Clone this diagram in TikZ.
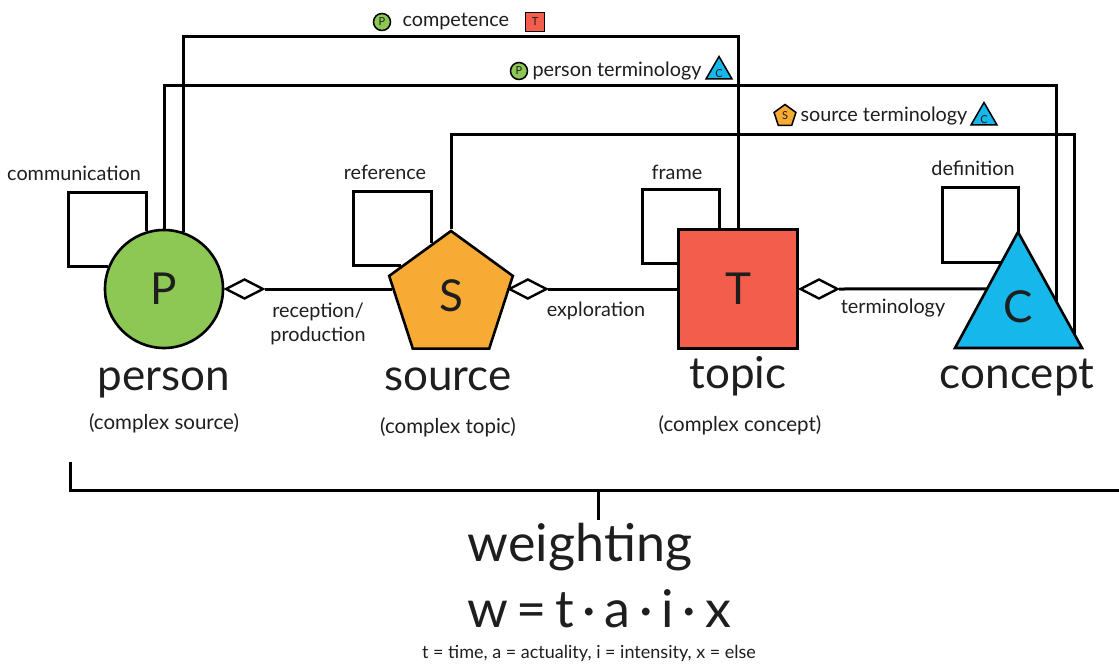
\documentclass[tikz,border=0pt]{standalone}
\usepackage{fontspec}
\setmainfont{Lato}
\usetikzlibrary{shapes.geometric,backgrounds,calc}
\definecolor{pgreen}{RGB}{141,199,84}
\definecolor{sorange}{RGB}{247,170,52}
\definecolor{tred}{RGB}{243,94,76}
\definecolor{ccyan}{RGB}{22,183,234}
\definecolor{ink}{RGB}{30,30,30}
\begin{document}
\begin{tikzpicture}[x=1pt,y=-1pt,line width=3pt,
  shapebox/.style={draw=black,line width=2.6pt,inner sep=0pt,font=\fontsize{44}{44}\selectfont,text=ink},
  dia/.style={draw=black,fill=white,line width=2.4pt,diamond,aspect=2,minimum width=38pt,minimum height=20pt,inner sep=0pt},
  lbl/.style={font=\fontsize{19.8}{24}\selectfont,text=ink,inner sep=0pt},
  bigname/.style={font=\fontsize{44}{48}\selectfont,text=ink,inner sep=0pt,anchor=base},
  sub/.style={font=\fontsize{20.5}{24}\selectfont,text=ink,inner sep=0pt},
  icon/.style={draw=black,line width=1.5pt,inner sep=0pt,font=\fontsize{11}{11}\selectfont,text=ink},
  conn/.style={draw=black,line width=3pt}]
\useasboundingbox (0,0) rectangle (1119,666);

% main shapes
\node[shapebox,circle,fill=pgreen,minimum size=118pt] (P) at (164,289) {P};
\node[shapebox,regular polygon,regular polygon sides=5,fill=sorange,minimum size=130pt] (S) at (451,296) {S};
\node[shapebox,rectangle,fill=tred,minimum size=119pt] (T) at (738,289) {T};
\coordinate (Ca) at (1018,232);
\coordinate (Cl) at (955,348);
\coordinate (Cr) at (1082,348);
\draw[fill=ccyan,line width=2.6pt] (Ca) -- (Cl) -- (Cr) -- cycle;
\node[inner sep=0pt,font=\fontsize{44}{44}\selectfont,text=ink] (C) at (1018,307) {C};

% diamonds
\node[dia,anchor=west] (dP) at (P.east) {};
\node[dia,anchor=west] (dS) at (S.east |- T.west) {};
\node[dia,anchor=west] (dT) at (T.east) {};

% helper coordinates
\coordinate (pl) at (68,192);
\coordinate (sl) at (353,191);
\coordinate (tl) at (642,189);
\coordinate (cl) at (942,187);
\coordinate (L1) at (0,37);
\coordinate (L2) at (0,86);
\coordinate (L3) at (0,135);
\coordinate (Ct) at ($(Ca)!0.491!(Cl)$);
\coordinate (Cd) at ($(Ca)!0.267!(Cl)$);
\coordinate (cR1) at ($(Ca)!0.594!(Cr)$);
\coordinate (cR2) at ($(Ca)!0.89!(Cr)$);

\begin{scope}[on background layer]
  % relations
  \draw[conn] (dP.east) -- (dP.east -| S.173);
  \draw[conn] (dS.east) -- (T.west);
  \draw[conn] (dT.east) -- (Ct);
  % self loops
  \draw[conn] (P.107.8) |- (pl) |- (P.158);
  \draw[conn] (S.110.4) |- (sl) |- (S.149.4);
  \draw[conn] (T.107.6) |- (tl) |- (T.157.9);
  \draw[conn] (Ca) |- (cl) |- (Cd);
  % long connectors
  \draw[conn] (P.71) |- (T.north |- L1) -- (T.north);
  \draw[conn] (P.north) |- (cR1 |- L2) -- (cR1);
  \draw[conn] (S.corner 1) |- (cR2 |- L3) -- (cR2);
\end{scope}

% loop labels
\node[lbl] (lcomm) at (74,173) {communication};
\node[lbl] (lref) at (385,172) {reference};
\node[lbl] (lframe) at (677,172) {frame};
\node[lbl] (ldef) at (973,168) {definition};

% relation labels
\node[lbl,align=center] (lrp) at (318,324) {reception/\\production};
\node[lbl] (lexp) at (596,311) {exploration};
\node[lbl] (lterm) at (893,308) {terminology};

% top labels with icons
\node[icon,circle,fill=pgreen,minimum size=17pt] (i1) at (382,22) {P};
\node[lbl,anchor=west] (lcomp) at (401,22) {competence};
\node[icon,rectangle,fill=tred,minimum size=19pt] (i2) at (535,22) {T};

\node[icon,circle,fill=pgreen,minimum size=17pt] (i3) at (519,71) {P};
\node[lbl,anchor=west] (lpt) at (531,71) {person terminology};
\node[icon,regular polygon,regular polygon sides=3,fill=ccyan,minimum size=30pt] (i4) at (719,71.5) {};
\node[inner sep=0pt,font=\fontsize{11}{11}\selectfont,text=ink] (i4t) at (719,74) {C};

\node[icon,regular polygon,regular polygon sides=5,fill=sorange,minimum size=23pt] (i5) at (785,116) {S};
\node[lbl,anchor=west] (lst) at (799,116) {source terminology};
\node[icon,regular polygon,regular polygon sides=3,fill=ccyan,minimum size=30pt] (i6) at (984,117.5) {};
\node[inner sep=0pt,font=\fontsize{11}{11}\selectfont,text=ink] (i6t) at (984,120) {C};

% names
\node[bigname] (nP) at (164,390) {person};
\node[sub] (sP) at (164,423) {(complex source)};
\node[bigname] (nS) at (448,390) {source};
\node[sub] (sS) at (448,427) {(complex topic)};
\node[bigname] (nT) at (738,388) {topic};
\node[sub] (sT) at (740,425) {(complex concept)};
\node[bigname] (nC) at (1017,388) {concept};

% weighting bracket
\coordinate (b1) at (70,462);
\coordinate (b2) at (1119,490);
\coordinate (b3) at (598,490);
\coordinate (b4) at (598,520);
\draw[conn] (b1) |- (b2);
\draw[conn] (b3) -- (b4);

\node[bigname,font=\fontsize{52}{54}\selectfont] (w1) at (580,561) {weighting};
\node[bigname,font=\fontsize{52}{54}\selectfont] (w2) at (599,627) {w\,=\,t\,·\,a\,·\,i\,·\,x};
\node[sub,font=\fontsize{18}{20}\selectfont] (w3) at (589,653) {t = time, a = actuality, i = intensity, x = else};
\end{tikzpicture}
\end{document}
